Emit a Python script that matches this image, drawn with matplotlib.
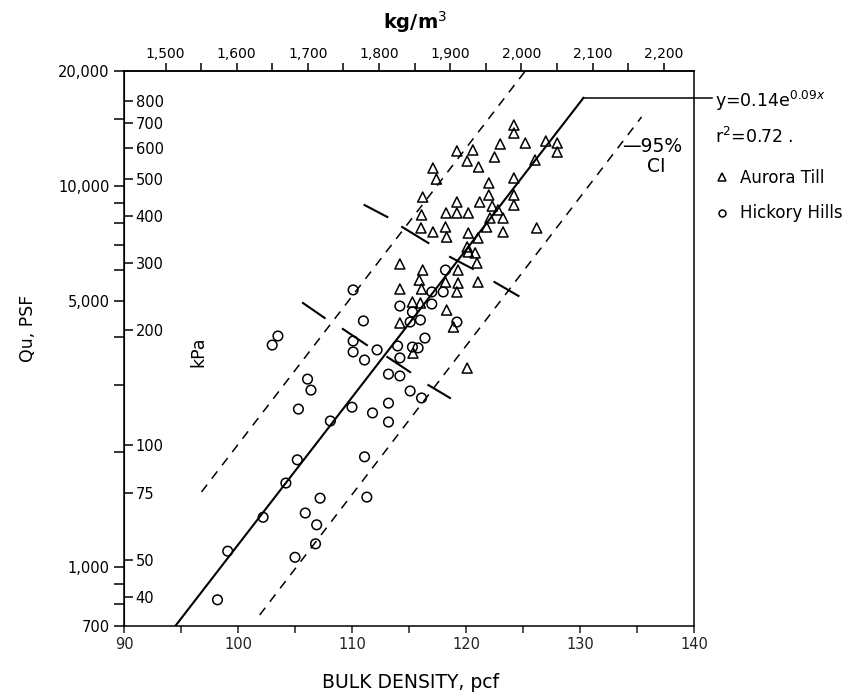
import matplotlib
matplotlib.use('Agg')
import matplotlib.pyplot as plt
from matplotlib.ticker import FixedLocator, NullFormatter, FuncFormatter
from matplotlib.lines import Line2D

plt.rcParams['font.family'] = ['DejaVu Sans']

# Hickory Hills (circles): bulk density pcf, Qu psf
hh_pcf = [98.2, 99.1, 102.2, 104.2, 105.0, 105.2, 105.9, 106.8, 106.9, 107.2,
          108.1, 105.3, 111.1, 111.3, 103.0, 103.5, 106.1, 106.4, 110.0, 111.8,
          113.2, 113.2, 110.1, 111.0, 110.1, 110.1, 111.1, 112.2, 113.2, 114.2,
          114.0, 115.3, 115.8, 114.2, 115.1, 116.1, 114.2, 115.3, 115.1, 116.0,
          117.0, 117.0, 118.0, 118.2, 116.4, 119.2]
hh_psf = [820, 1100, 1350, 1660, 1060, 1910, 1385, 1150, 1290, 1515,
          2415, 2595, 1945, 1525, 3820, 4035, 3110, 2910, 2625, 2535,
          2690, 2400, 5330, 4420, 3915, 3665, 3490, 3710, 3205, 3170,
          3800, 3775, 3755, 3535, 2895, 2775, 4835, 4665, 4390, 4445,
          4895, 5265, 5265, 6010, 3985, 4390]

# Aurora Till (triangles)
at_pcf = [124.2, 124.2, 123.0, 125.2, 127.0, 128.0, 128.0, 126.05, 119.2, 120.6,
          120.1, 121.1, 122.5, 117.1, 117.4, 116.2, 116.1, 116.05, 117.1, 118.2,
          118.3, 118.25, 119.2, 119.2, 120.2, 121.2, 122.0, 122.0, 122.3, 122.8,
          123.25, 122.1, 121.8, 123.25, 124.2, 124.2, 124.2, 126.2, 120.2, 121.05,
          120.1, 114.2, 116.2, 115.9, 116.1, 114.2, 115.3, 116.0, 114.2, 118.3,
          119.2, 119.3, 119.3, 118.2, 121.05, 120.96, 120.2, 120.8, 118.9, 120.1,
          115.35]
at_psf = [14430, 13750, 12870, 12945, 13100, 12945, 12260, 11680, 12340, 12410,
          11610, 11200, 11895, 11130, 10410, 9340, 8385, 7750, 7565, 7795,
          7335, 8485, 8485, 9065, 8485, 9065, 10170, 9455, 8845, 8640,
          8230, 8230, 7795, 7565, 10480, 9455, 8900, 7750, 7515, 7295,
          6910, 6235, 6010, 5655, 5360, 5360, 4955, 4925, 4365, 4720,
          5265, 5555, 6010, 5590, 5590, 6270, 6705, 6665, 4260, 3325,
          3640]

# fitted line y=0.14e^0.09x and 95% CI lines (end points)
fit_x = [94.5, 130.3]
fit_y = [700, 17000]
ci_up_x = [96.8, 125.2]
ci_up_y = [1573, 20000]
ci_lo_x = [101.9, 135.4]
ci_lo_y = [748, 15150]

# short bars across the band
seg_x0 = [111.1, 114.4, 118.6, 122.5, 109.2, 113.1, 116.7, 105.7]
seg_y0 = [8900, 7795, 6505, 5590, 4210, 3555, 3000, 4925]
seg_x1 = [113.1, 116.7, 120.6, 124.6, 111.3, 115.1, 118.6, 107.6]
seg_y1 = [8280, 7075, 6050, 5140, 3820, 3245, 2775, 4500]

psf_major = [700, 1000, 5000, 10000, 20000]
psf_minor = [800, 900, 2000, 3000, 4000, 6000, 7000, 8000, 9000, 15000]
kpa_ticks = [40, 50, 75, 100, 200, 300, 400, 500, 600, 700, 800]
pcf_major = [90, 100, 110, 120, 130, 140]
pcf_minor = [95, 105, 115, 125, 135]
kgm3_major = [1500, 1600, 1700, 1800, 1900, 2000, 2100, 2200]
kgm3_minor = [1550, 1650, 1750, 1850, 1950, 2050, 2150]

PSF2KPA = 0.0478803
PCF2KGM3 = 16.0185

W, H = 848, 698
fig = plt.figure(figsize=(W / 100, H / 100), dpi=100)
ax = fig.add_axes([124 / W, 1 - 626 / H, 570 / W, 555 / H])
ax.set_yscale('log')
ax.set_xlim(90, 140)
ax.set_ylim(700, 20000)

ax.plot(fit_x, fit_y, color='black', lw=1.5)
ax.plot(ci_up_x, ci_up_y, color='black', lw=1.1, linestyle=(0, (6, 5)))
ax.plot(ci_lo_x, ci_lo_y, color='black', lw=1.1, linestyle=(0, (6, 5)))
for i in range(len(seg_x0)):
    ax.plot([seg_x0[i], seg_x1[i]], [seg_y0[i], seg_y1[i]], color='black', lw=1.5)

ax.scatter(hh_pcf, hh_psf, s=48, marker='o', facecolors='none', edgecolors='black', linewidths=1.1, zorder=3)
ax.scatter(at_pcf, at_psf, s=52, marker='^', facecolors='none', edgecolors='black', linewidths=1.1, zorder=3)

# leader line to the equation
ax.plot([fit_x[1], 141.6], [fit_y[1], fit_y[1]], color='black', lw=1.1, clip_on=False)

for sp in ax.spines.values():
    sp.set_linewidth(1.1)

ax.xaxis.set_major_locator(FixedLocator(pcf_major))
ax.xaxis.set_minor_locator(FixedLocator(pcf_minor))
ax.xaxis.set_minor_formatter(NullFormatter())
ax.tick_params(axis='x', which='both', direction='out', length=5, width=1.1,
               labelsize=10.5, pad=3, colors='#222222')

fmt = FuncFormatter(lambda v, p: '{:,.0f}'.format(v))
ax.yaxis.set_major_locator(FixedLocator(psf_major))
ax.yaxis.set_major_formatter(fmt)
ax.yaxis.set_minor_locator(FixedLocator(psf_minor))
ax.yaxis.set_minor_formatter(NullFormatter())
ax.tick_params(axis='y', which='both', direction='out', length=7.5, width=1.1,
               labelsize=10.5, pad=3)

# kPa scale drawn on the inner side of the left spine
ax2 = ax.twinx()
ax2.set_yscale('log')
ax2.set_ylim(700 * PSF2KPA, 20000 * PSF2KPA)
ax2.spines['right'].set_position(('axes', 0))
for k in ['top', 'bottom', 'left']:
    ax2.spines[k].set_visible(False)
ax2.yaxis.set_major_locator(FixedLocator(kpa_ticks))
ax2.yaxis.set_major_formatter(FuncFormatter(lambda v, p: '%d' % v))
ax2.yaxis.set_minor_locator(FixedLocator([]))
ax2.tick_params(axis='y', which='major', direction='out', length=6.5, width=1.1,
                labelsize=10.5, pad=2)

# kg/m3 scale on top
top = ax.secondary_xaxis('top', functions=(lambda x: x * PCF2KGM3, lambda x: x / PCF2KGM3))
top.xaxis.set_major_locator(FixedLocator(kgm3_major))
top.xaxis.set_major_formatter(fmt)
top.xaxis.set_minor_locator(FixedLocator(kgm3_minor))
top.xaxis.set_minor_formatter(NullFormatter())
top.tick_params(axis='x', which='both', direction='out', length=5.5, width=1.1,
                labelsize=10, pad=2)
top.spines['top'].set_linewidth(1.1)

# axis titles
fig.text(415 / W, 1 - 22 / H, 'kg/m$^3$', ha='center', va='center', fontsize=14, fontweight='bold')
fig.text(411 / W, 1 - 683 / H, 'BULK DENSITY, pcf', ha='center', va='center', fontsize=13.5)
fig.text(28 / W, 1 - 328 / H, 'Qu, PSF', ha='center', va='center', rotation=90, fontsize=12.5)
fig.text(198 / W, 1 - 352 / H, 'kPa', ha='center', va='center', rotation=90, fontsize=12.5)

# equation and legend
fig.text(715 / W, 1 - 101 / H, 'y=0.14e$^{0.09x}$', ha='left', va='center', fontsize=12.5)
fig.text(715 / W, 1 - 137 / H, 'r$^2$=0.72 .', ha='left', va='center', fontsize=12.5)
fig.add_artist(Line2D([722 / W], [1 - 177 / H], marker='^', markersize=6, mfc='none', mec='black',
                      mew=1.1, transform=fig.transFigure))
fig.text(740 / W, 1 - 178 / H, 'Aurora Till', ha='left', va='center', fontsize=12)
fig.add_artist(Line2D([722 / W], [1 - 213 / H], marker='o', markersize=5, mfc='none', mec='black',
                      mew=1.1, transform=fig.transFigure))
fig.text(740 / W, 1 - 213 / H, 'Hickory Hills', ha='left', va='center', fontsize=12)

fig.text(622 / W, 1 - 147 / H, '\u201495%', ha='left', va='center', fontsize=13.5)
fig.text(656 / W, 1 - 167 / H, 'CI', ha='center', va='center', fontsize=13.5)

fig.savefig('out.png', dpi=100)
